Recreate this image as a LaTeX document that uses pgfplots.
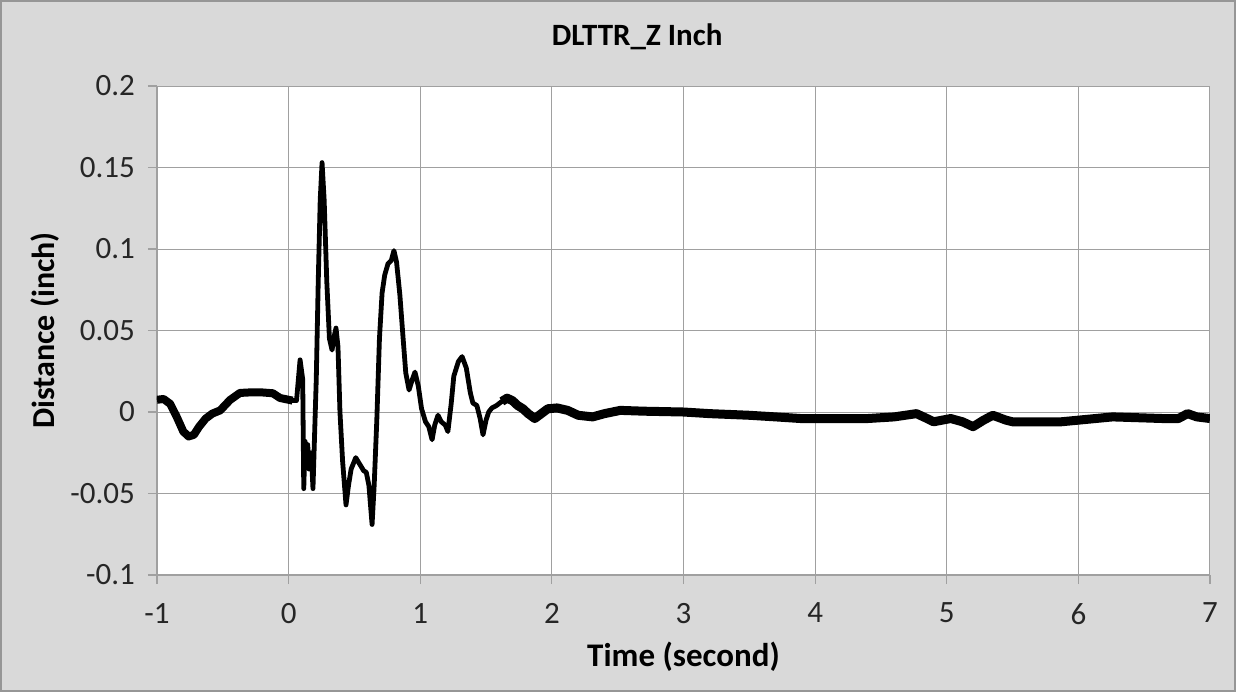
\documentclass[border=0pt]{standalone}
\usepackage{fontspec}
\setmainfont{Carlito}
\usepackage{pgfplots}
\pgfplotsset{compat=1.18}
\definecolor{bgc}{RGB}{217,217,217}
\definecolor{gridc}{RGB}{160,160,160}
\definecolor{framec}{RGB}{150,150,150}
\begin{document}
\begin{tikzpicture}
\fill[bgc] (-78.5pt,-58.5pt) rectangle (539.5pt,287.5pt);
\draw[framec, line width=0.8pt] (-78.1pt,-58.1pt) rectangle (539.1pt,287.1pt);
\begin{axis}[
  at={(0pt,0pt)}, anchor=south west,
  scale only axis, width=526.5pt, height=244.5pt,
  xmin=-1, xmax=7, ymin=-0.1, ymax=0.2,
  xtick={-1,0,...,7}, ytick={-0.1,-0.05,0,0.05,0.1,0.15,0.2},
  axis background/.style={fill=white},
  grid=major, grid style={gridc, line width=0.5pt},
  axis line style={gridc, line width=0.6pt},
  axis x line*=bottom, axis y line*=left,
  tick align=outside, major tick length=4.5pt,
  tick style={gridc, line width=0.6pt},
  /pgf/number format/assume math mode=true,
  /pgf/number format/fixed,
  /pgf/number format/precision=2,
  ticklabel style={font=\fontsize{15.5}{18}\selectfont, text=black!85},
  yticklabel style={xshift=-3pt},
  xticklabel style={yshift=-6pt},
  title={\textbf{DLTTR\_Z Inch}},
  title style={font=\fontsize{15.5}{18}\selectfont, at={(axis description cs:0.456,1.076)}, anchor=center},
  xlabel={\textbf{Time (second)}},
  xlabel style={font=\fontsize{16.5}{20}\selectfont, at={(axis description cs:0.5,-0.1677)}, anchor=center},
  ylabel={\textbf{Distance (inch)}},
  ylabel style={font=\fontsize{16}{20}\selectfont, at={(axis description cs:-0.1064,0.5)}, anchor=center},
]
\addplot[black, line width=2.4pt, line join=round] coordinates {
(-1,0.0075) (-0.95,0.008) (-0.9,0.005) (-0.85,-0.003) (-0.8,-0.012) (-0.76,-0.015)
(-0.72,-0.014) (-0.68,-0.009) (-0.63,-0.004) (-0.58,-0.001) (-0.52,0.001) (-0.445,0.0074)
(-0.37,0.0117) (-0.3,0.012) (-0.2,0.012) (-0.12,0.0115) (-0.065,0.0086) (0.03,0.007)
(0.06,0.007) (0.087,0.032) (0.107,0.02) (0.115,-0.047) (0.125,-0.018) (0.135,-0.032)
(0.145,-0.02) (0.155,-0.035) (0.165,-0.025) (0.175,-0.03) (0.185,-0.047) (0.195,-0.02)
(0.21,0.02) (0.225,0.08) (0.24,0.13) (0.254,0.153) (0.27,0.13) (0.29,0.08) (0.31,0.045)
(0.33,0.038) (0.35,0.048) (0.36,0.0515) (0.375,0.04) (0.39,0.0) (0.41,-0.03) (0.436,-0.057)
(0.455,-0.045) (0.475,-0.035) (0.51,-0.028) (0.54,-0.032) (0.57,-0.036) (0.59,-0.037)
(0.61,-0.045) (0.634,-0.069) (0.65,-0.045) (0.67,-0.005) (0.69,0.045) (0.71,0.073)
(0.73,0.084) (0.755,0.091) (0.78,0.093) (0.80,0.099) (0.82,0.092) (0.845,0.072)
(0.87,0.045) (0.89,0.024) (0.915,0.0135) (0.94,0.02) (0.96,0.0245) (0.985,0.016)
(1.01,0.002) (1.04,-0.006) (1.065,-0.009) (1.09,-0.017) (1.11,-0.008) (1.135,-0.002)
(1.16,-0.006) (1.19,-0.008) (1.21,-0.012) (1.235,0.005) (1.255,0.022) (1.29,0.031)
(1.318,0.034) (1.35,0.027) (1.38,0.012) (1.40,0.0055) (1.43,0.004) (1.455,-0.004)
(1.477,-0.014) (1.50,-0.005) (1.52,0.0) (1.545,0.0025) (1.58,0.004) (1.62,0.0065)
(1.66,0.0085) (1.70,0.007) (1.74,0.004) (1.78,0.002) (1.82,-0.001) (1.87,-0.004)
(1.92,-0.001) (1.97,0.002) (2.04,0.0025) (2.12,0.001) (2.2,-0.002) (2.31,-0.003)
(2.4,-0.001) (2.52,0.001) (2.7,0.0005) (3.0,0.0) (3.2,-0.001) (3.5,-0.002) (3.7,-0.003)
(3.89,-0.004) (4.1,-0.004) (4.4,-0.004) (4.6,-0.003) (4.77,-0.001) (4.85,-0.004)
(4.9,-0.006) (5.03,-0.004) (5.12,-0.006) (5.2,-0.009) (5.28,-0.005) (5.35,-0.002)
(5.45,-0.005) (5.5,-0.006) (5.87,-0.006) (6.26,-0.003) (6.64,-0.004) (6.76,-0.004)
(6.83,-0.001) (6.9,-0.003) (7.0,-0.004)
};
\addplot[black, line width=4pt, line join=round] coordinates {
(-1,0.0075) (-0.95,0.008) (-0.9,0.005) (-0.85,-0.003) (-0.8,-0.012) (-0.76,-0.015)
(-0.72,-0.014) (-0.68,-0.009) (-0.63,-0.004) (-0.58,-0.001) (-0.52,0.001) (-0.445,0.0074)
(-0.37,0.0117) (-0.3,0.012) (-0.2,0.012) (-0.12,0.0115) (-0.065,0.0086) (0.03,0.007)
};
\addplot[black, line width=4.5pt, line join=round] coordinates {
(1.62,0.0065) (1.66,0.0085) (1.70,0.007) (1.74,0.004) (1.78,0.002) (1.82,-0.001) (1.87,-0.004)
(1.92,-0.001) (1.97,0.002) (2.04,0.0025) (2.12,0.001) (2.2,-0.002) (2.31,-0.003)
(2.4,-0.001) (2.52,0.001) (2.7,0.0005) (3.0,0.0) (3.2,-0.001) (3.5,-0.002) (3.7,-0.003)
(3.89,-0.004) (4.1,-0.004) (4.4,-0.004) (4.6,-0.003) (4.77,-0.001) (4.85,-0.004)
(4.9,-0.006) (5.03,-0.004) (5.12,-0.006) (5.2,-0.009) (5.28,-0.005) (5.35,-0.002)
(5.45,-0.005) (5.5,-0.006) (5.87,-0.006) (6.26,-0.003) (6.64,-0.004) (6.76,-0.004)
(6.83,-0.001) (6.9,-0.003) (7.0,-0.004)
};
\end{axis}
\end{tikzpicture}
\end{document}
